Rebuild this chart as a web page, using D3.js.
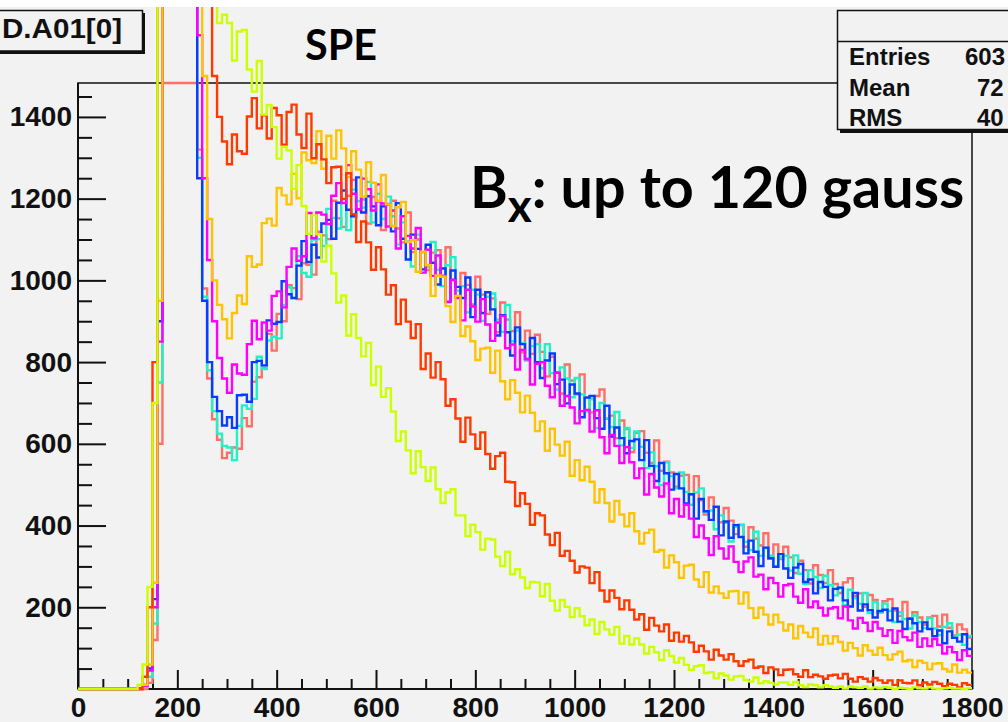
<!DOCTYPE html>
<html>
<head>
<meta charset="utf-8">
<script src="https://cdn.jsdelivr.net/npm/d3@7"></script>
<style>
  html, body { margin: 0; padding: 0; background: #f2f2f2; }
  svg { display: block; }
</style>
</head>
<body>
<svg id="vis"></svg>
<script>
// Histogram settings (bins of 10 from 0 to 1800)
const BIN = 10;
const X_MAX = 1800;
const Y_MAX = 1483;

const X_TICKS = [0, 200, 400, 600, 800, 1000, 1200, 1400, 1600, 1800];
const Y_TICKS = [200, 400, 600, 800, 1000, 1200, 1400];

const TITLE = "D.A01[0]";
const STATS_LABELS = ["Entries", "Mean", "RMS"];
// only the part of the numbers that is visible in the picture
const STATS_VALUES = ["603", "72", "40"];

// bin contents, one value per bin of 10 (pedestal is off scale)
const salmon = [
  0,0,0,0,0,0,0,0,0,0,
  0,0,0,0,15,120,600,4000,4000,4000,
  4000,4000,4000,1700,1320,980,760,660,610,565,
  578,591,588,663,643,752,763,786,869,828,
  918,900,988,981,954,1042,1038,1014,1119,1110,
  1101,1195,1152,1131,1207,1246,1172,1198,1139,1204,
  1192,1123,1187,1195,1127,1093,1166,1069,1100,1069,
  1025,1068,1074,1011,1081,1002,958,1018,989,941,
  1009,965,918,956,873,946,904,876,922,824,
  877,820,867,825,765,813,775,723,794,755,
  721,770,714,677,717,733,661,669,614,657,
  636,580,627,631,578,553,608,534,556,530,
  495,522,524,475,521,462,427,469,445,408,
  443,412,379,402,348,396,368,351,381,319,
  354,318,348,322,284,314,291,258,303,279,
  259,291,257,235,261,271,227,234,201,230,
  218,188,215,220,192,179,213,173,188,175,
  157,175,179,153,182,150,131,158,146,126
];
const cyan = [
  0,0,0,0,0,0,0,0,0,0,
  0,0,0,5,30,160,750,4000,4000,4000,
  4000,4000,4000,1750,1300,960,780,680,625,595,
  591,560,644,694,686,710,813,783,853,862,
  858,940,983,957,1059,1018,1009,1100,1101,1084,
  1175,1153,1127,1190,1123,1222,1194,1178,1241,1142,
  1212,1150,1205,1157,1088,1142,1095,1034,1112,1069,
  1032,1094,1026,986,1037,1057,975,986,922,977,
  965,901,960,968,904,874,940,851,877,846,
  804,839,844,785,844,773,733,787,760,714,
  761,721,679,709,639,700,663,641,678,596,
  639,590,630,593,541,579,545,499,555,521,
  491,530,482,451,481,491,432,437,391,425,
  407,361,397,401,360,340,385,326,345,326,
  300,322,326,290,327,282,257,291,274,247,
  277,254,229,248,205,243,222,209,235,186,
  213,187,209,191,164,188,171,148,180,164,
  149,174,148,132,152,161,128,133,108,130
];
const blue = [
  0,0,0,0,0,0,0,0,0,0,
  0,0,2,10,50,220,900,4000,4000,4000,
  4000,4000,4000,1700,1250,950,800,715,680,645,
  665,639,719,720,703,800,803,792,902,894,
  898,998,966,957,1036,1096,1045,1087,1056,1139,
  1148,1102,1190,1220,1173,1157,1252,1166,1206,1181,
  1135,1181,1186,1120,1189,1102,1051,1112,1077,1027,
  1087,1043,990,1029,947,1024,984,957,1007,910,
  977,920,971,929,865,915,873,816,885,844,
  808,859,800,761,804,821,746,757,699,745,
  723,665,713,717,663,637,693,618,640,614,
  577,607,611,560,609,546,509,553,528,488,
  526,491,454,477,417,465,435,414,446,376,
  410,370,401,372,332,363,336,301,346,320,
  299,330,295,272,297,306,262,268,234,262,
  250,217,245,248,217,202,235,192,207,193,
  175,191,194,168,197,165,147,172,161,141,
  163,147,129,143,112,141,125,116,134,98
];
const magenta = [
  0,0,0,0,0,0,0,0,0,0,
  0,0,0,8,45,200,850,4000,4000,4000,
  4000,4000,4000,2500,1600,1250,1050,900,810,760,
  725,794,772,769,844,901,856,897,877,962,
  973,934,1033,1078,1048,1059,1165,1103,1166,1161,
  1138,1207,1238,1189,1282,1212,1174,1249,1223,1171,
  1235,1188,1132,1171,1078,1157,1109,1078,1128,1019,
  1075,1011,1061,1011,948,1001,957,902,977,936,
  899,954,892,852,897,913,834,843,782,830,
  807,745,796,800,742,714,774,693,717,689,
  650,680,683,630,682,616,577,622,595,553,
  592,555,516,540,476,526,493,471,503,430,
  465,422,451,417,372,400,369,328,374,344,
  319,349,311,286,312,322,275,280,244,272,
  259,226,254,257,226,211,244,200,214,199,
  180,197,200,173,202,168,148,174,162,142,
  164,148,130,144,113,142,127,119,138,103,
  124,105,122,108,87,103,90,71,95,81
];
const gold = [
  0,0,0,0,0,0,0,0,0,0,
  0,0,0,10,60,260,950,4000,4000,4000,
  4000,4000,4000,4000,2500,1500,1150,1000,940,905,
  858,920,963,942,1059,1033,1039,1140,1151,1134,
  1226,1208,1186,1261,1201,1313,1294,1287,1365,1273,
  1354,1298,1367,1323,1253,1316,1271,1205,1289,1239,
  1195,1258,1186,1133,1179,1192,1094,1098,1021,1070,
  1037,962,1012,1009,937,898,962,864,887,851,
  805,833,835,774,828,753,709,756,725,677,
  718,676,631,655,583,637,598,571,605,522,
  560,511,544,507,456,489,455,410,460,427,
  398,430,386,356,382,390,336,340,297,327,
  310,272,302,304,268,250,286,236,251,234,
  223,239,240,209,236,198,174,199,182,158,
  182,163,143,158,124,154,138,127,148,109,
  130,111,129,115,94,113,100,82,107,94,
  84,101,83,72,85,91,68,71,54,69,
  64,48,62,63,49,43,60,40,47,40
];
const red = [
  0,0,0,0,0,0,0,0,0,0,
  0,0,0,30,200,800,4000,4000,4000,4000,
  4000,4000,4000,4000,4000,4000,2000,1500,1400,1340,
  1284,1357,1316,1310,1401,1446,1372,1404,1347,1422,
  1404,1332,1412,1430,1357,1324,1408,1299,1333,1296,
  1238,1277,1278,1199,1262,1162,1094,1144,1093,1026,
  1081,1027,965,988,893,953,899,859,893,783,
  821,762,800,758,693,709,662,605,664,623,
  588,628,575,539,570,578,507,506,448,479,
  453,402,430,425,378,352,382,326,338,314,
  285,300,297,259,286,241,214,241,223,195,
  217,194,170,183,145,174,155,141,158,118,
  138,116,130,114,91,106,92,72,96,82,
  72,85,68,57,68,72,52,55,39,53,
  48,34,47,48,36,30,46,29,35,31,
  25,33,35,26,37,25,18,29,25,18,
  27,21,15,21,10,21,15,14,21,9,
  16,11,17,13,7,13,10,4,14,10
];
const lime = [
  0,0,0,0,0,0,0,0,0,0,
  0,0,10,60,250,700,4000,4000,4000,4000,
  4000,4000,4000,4000,4000,4000,4000,1700,1630,1650,
  1630,1538,1609,1613,1516,1462,1537,1406,1429,1375,
  1298,1327,1318,1224,1282,1182,1114,1159,1113,1046,
  1085,1017,946,963,865,917,859,814,847,744,
  789,715,736,679,607,630,584,528,582,543,
  509,542,489,455,481,489,425,425,374,402,
  384,341,368,366,324,301,336,281,293,273,
  247,262,261,227,257,216,192,218,201,176,
  198,178,156,170,135,164,146,133,152,111,
  130,109,124,109,87,103,90,71,95,81,
  65,76,59,47,56,58,39,41,26,38,
  33,23,31,32,22,18,28,14,19,15,
  11,16,16,10,17,9,5,11,9,4,
  9,6,3,6,1,6,4,3,6,1,
  4,2,5,3,0,3,2,0,4,2,
  1,4,1,0,2,3,1,1,0,2
];

const SERIES = [
  { name: "salmon", values: salmon, color: "#ff6f66", clampTop: true },
  { name: "cyan", values: cyan, color: "#1ff2c6" },
  { name: "blue", values: blue, color: "#0a3cff" },
  { name: "magenta", values: magenta, color: "#ff00ff" },
  { name: "gold", values: gold, color: "#ffc400" },
  { name: "red", values: red, color: "#ff3a00" },
  { name: "lime", values: lime, color: "#ccff00" },
];

const WIDTH = 1008;
const HEIGHT = 722;
const MARGIN = { top: 83, bottom: 33, left: 78, right: 36 };
const FONT = "'Liberation Sans', Arial, Helvetica, sans-serif";

const svg = d3.select("#vis")
    .attr("width", WIDTH)
    .attr("height", HEIGHT);

svg.append("rect").attr("width", WIDTH).attr("height", HEIGHT).attr("fill", "#f2f2f2");
svg.append("rect").attr("width", WIDTH).attr("height", 7).attr("fill", "#ffffff");

const x = d3.scaleLinear().domain([0, X_MAX]).range([MARGIN.left, WIDTH - MARGIN.right]);
const y = d3.scaleLinear().domain([0, Y_MAX]).range([HEIGHT - MARGIN.bottom, MARGIN.top]);

// frame
svg.append("rect")
    .attr("x", x(0)).attr("y", y(Y_MAX))
    .attr("width", x(X_MAX) - x(0)).attr("height", y(0) - y(Y_MAX))
    .attr("fill", "none").attr("stroke", "#111").attr("stroke-width", 1.5);

// axes: ticks drawn inside the frame, ROOT style
const minorX = d3.range(50, X_MAX, 50).filter(v => v % 200 !== 0);
const minorY = d3.range(50, Y_MAX, 50).filter(v => v % 200 !== 0);

const gx = svg.append("g").attr("transform", `translate(0, ${y(0)})`);
gx.call(d3.axisBottom(x).tickValues(X_TICKS).tickFormat(d3.format("d"))
    .tickSizeInner(-19).tickSizeOuter(0).tickPadding(8));
gx.append("g").call(d3.axisBottom(x).tickValues(minorX).tickSizeInner(-10).tickSizeOuter(0).tickFormat(""));

const gy = svg.append("g").attr("transform", `translate(${x(0)}, 0)`);
gy.call(d3.axisLeft(y).tickValues(Y_TICKS).tickFormat(d3.format("d"))
    .tickSizeInner(-28).tickSizeOuter(0).tickPadding(6));
gy.append("g").call(d3.axisLeft(y).tickValues(minorY).tickSizeInner(-14).tickSizeOuter(0).tickFormat(""));

svg.selectAll(".domain").remove();
svg.selectAll(".tick line").attr("stroke", "#111").attr("stroke-width", 2);
svg.selectAll(".tick text")
    .attr("fill", "#111")
    .style("font-family", FONT)
    .style("font-weight", "bold")
    .style("font-size", "28px");

svg.append("line")
    .attr("x1", x(0)).attr("x2", x(X_MAX)).attr("y1", y(0)).attr("y2", y(0))
    .attr("stroke", "#111").attr("stroke-width", 2.2);
svg.append("line")
    .attr("x1", x(0)).attr("x2", x(0)).attr("y1", y(0)).attr("y2", y(Y_MAX))
    .attr("stroke", "#111").attr("stroke-width", 2);

// histograms (drawn with "same", they run over the frame top)
svg.append("clipPath").attr("id", "clip")
    .append("rect")
    .attr("x", x(0)).attr("y", 7)
    .attr("width", x(X_MAX) - x(0)).attr("height", y(0) - 7 + 2);

const stepLine = d3.line()
    .x(d => x(d[0]))
    .y(d => y(d[1]))
    .curve(d3.curveStepAfter);

const histos = svg.append("g").attr("clip-path", "url(#clip)");
SERIES.forEach(s => {
    const vals = s.values.map(v => s.clampTop ? Math.min(v, Y_MAX) : v);
    const pts = vals.map((v, i) => [i * BIN, v]);
    pts.push([X_MAX, vals[vals.length - 1]]);
    histos.append("path")
        .datum(pts)
        .attr("d", stepLine)
        .attr("fill", "none")
        .attr("stroke", s.color)
        .attr("stroke-width", 2.4);
});

// stats box
const stats = svg.append("g");
stats.append("rect").attr("x", 840).attr("y", 13).attr("width", 200).attr("height", 120).attr("fill", "#111");
stats.append("rect").attr("x", 837.5).attr("y", 10.5).attr("width", 200).attr("height", 119)
    .attr("fill", "#f2f2f2").attr("stroke", "#111").attr("stroke-width", 1.5);
stats.append("line").attr("x1", 837.5).attr("x2", 1008).attr("y1", 41.5).attr("y2", 41.5)
    .attr("stroke", "#111").attr("stroke-width", 1.5);
STATS_LABELS.forEach((lab, i) => {
    const by = 65 + i * 30.5;
    stats.append("text").attr("x", 849).attr("y", by).text(lab)
        .style("font-family", FONT).style("font-weight", "bold").style("font-size", "24px").attr("fill", "#111");
    stats.append("text").attr("x", i === 0 ? 965 : 977).attr("y", by).text(STATS_VALUES[i])
        .style("font-family", FONT).style("font-weight", "bold").style("font-size", "24px").attr("fill", "#111");
});

// title box
const title = svg.append("g");
title.append("rect").attr("x", -8).attr("y", 13).attr("width", 153).attr("height", 41).attr("fill", "#111");
title.append("rect").attr("x", -10).attr("y", 10.5).attr("width", 152.5).attr("height", 40.5)
    .attr("fill", "#f2f2f2").attr("stroke", "#111").attr("stroke-width", 1.5);
title.append("text").attr("x", 122).attr("y", 37.5).attr("text-anchor", "end").text(TITLE)
    .attr("textLength", 120).attr("lengthAdjust", "spacingAndGlyphs")
    .style("font-family", FONT).style("font-weight", "bold").style("font-size", "28px").attr("fill", "#111");

// annotations
const ANNOT_FONT = "Lato, 'Open Sans', sans-serif";
const spe = svg.append("text").attr("x", 305).attr("y", 60).text("SPE")
    .style("font-family", ANNOT_FONT).style("font-weight", "bold").style("font-size", "36px").attr("fill", "#000");
spe.style("font-size", (36 * 72 / spe.node().getComputedTextLength()) + "px");

const bx = svg.append("text").attr("x", 470).attr("y", 208)
    .style("font-family", ANNOT_FONT).style("font-weight", "bold").style("font-size", "56px").attr("fill", "#000");
bx.append("tspan").text("B");
bx.append("tspan").attr("dy", 14).style("font-size", "46px").text("x");
bx.append("tspan").attr("dy", -14).text(": up to 120 gauss");
const bw = bx.node().getComputedTextLength();
bx.style("font-size", (56 * 495 / bw) + "px");
</script>
</body>
</html>
